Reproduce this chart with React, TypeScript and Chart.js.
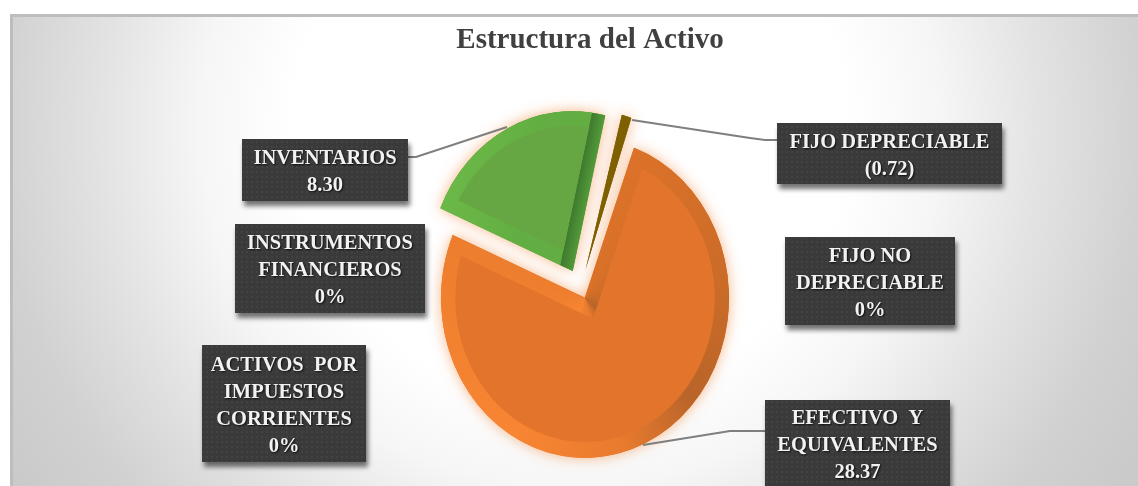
import React, { useEffect, useRef } from "react";
import { Chart, registerables } from "chart.js";

Chart.register(...registerables);

const titleText = "Estructura del Activo";
const categories = [
  "EFECTIVO Y EQUIVALENTES",
  "ACTIVOS POR IMPUESTOS CORRIENTES",
  "INSTRUMENTOS FINANCIEROS",
  "INVENTARIOS",
  "FIJO DEPRECIABLE",
  "FIJO NO DEPRECIABLE",
];
const values = [28.37, 0, 0, 8.3, 0.72, 0];
const categoryLines = [
  ["EFECTIVO  Y", "EQUIVALENTES"],
  ["ACTIVOS  POR", "IMPUESTOS", "CORRIENTES"],
  ["INSTRUMENTOS", "FINANCIEROS"],
  ["INVENTARIOS"],
  ["FIJO DEPRECIABLE"],
  ["FIJO NO", "DEPRECIABLE"],
];
const valueLabels = ["28.37", "0%", "0%", "8.30", "(0.72)", "0%"];

const faceColors = ["#E2752B", "#A5A5A5", "#FFC000", "#67A743", "#7F6000", "#4472C4"];
const sliceOffsets = [0, 0, 0, 110, 108, 0];
const sliceNudgeX = [0, 0, 0, 0, -7, 0];
const rimWidths = [14, 0, 0, 13, 0, 0];

const labelBoxes = [
  { x: 765, y: 400, w: 185, h: 92, first: 419 },
  { x: 202, y: 345, w: 164, h: 117, first: 366 },
  { x: 235, y: 224, w: 190, h: 89, first: 244 },
  { x: 242, y: 139, w: 166, h: 62, first: 159 },
  { x: 777, y: 123, w: 225, h: 61, first: 143 },
  { x: 785, y: 237, w: 170, h: 88, first: 257 },
];
const leaders = [
  [[643, 445], [730, 431], [765, 431]],
  [[408, 157], [416, 157], [507, 127]],
  [[632, 120], [750, 138], [765, 140], [777, 140]],
];

const PIE_X = 585;
const PIE_Y = 298;
const STRETCH = 1.11;

function orangeRim(chart: any) {
  const a = chart.chartArea;
  if (!a) return "#E2752B";
  const cx = (a.left + a.right) / 2;
  const cy = (a.top + a.bottom) / 2;
  const g = chart.ctx.createConicGradient(0, cx, cy);
  const stops: [number, string][] = [
    [0, "#C96B28"],
    [40, "#B9642A"],
    [75, "#E97B2E"],
    [120, "#F88533"],
    [180, "#F0802F"],
    [240, "#E87A2C"],
    [290, "#DC7229"],
    [360, "#C96B28"],
  ];
  stops.forEach(([deg, color]) => g.addColorStop(deg / 360, color));
  return g;
}

function greenRim(chart: any) {
  const a = chart.chartArea;
  if (!a) return "#67A743";
  const ax = (a.left + a.right) / 2;
  const ay = (a.top + a.bottom) / 2;
  const nx = 0.974;
  const ny = 0.225;
  const g = chart.ctx.createLinearGradient(ax - nx * 150, ay - ny * 150, ax, ay);
  g.addColorStop(0, "#6CBA49");
  g.addColorStop(0.6, "#63AE42");
  g.addColorStop(0.91, "#63AE42");
  g.addColorStop(0.915, "#3F7A2E");
  g.addColorStop(1, "#539A3A");
  return g;
}

const panelPlugin = {
  id: "panel",
  beforeDraw(chart: any) {
    const ctx = chart.ctx;
    ctx.save();
    ctx.fillStyle = "#ffffff";
    ctx.fillRect(0, 0, chart.width, chart.height);
    ctx.fillStyle = "#bdbdbd";
    ctx.fillRect(10, 14, chart.width - 10, 3);
    ctx.fillRect(10, 14, 3, chart.height - 14);
    ctx.beginPath();
    ctx.rect(13, 17, chart.width - 13, chart.height - 17);
    ctx.clip();
    ctx.translate(570, 130);
    ctx.scale(1, 600 / 620);
    const g = ctx.createRadialGradient(0, 0, 0, 0, 0, 660);
    g.addColorStop(0, "#ffffff");
    g.addColorStop(0.42, "#ffffff");
    g.addColorStop(0.56, "#f6f6f6");
    g.addColorStop(0.71, "#e3e3e3");
    g.addColorStop(0.87, "#d1d1d1");
    g.addColorStop(1, "#cacaca");
    ctx.fillStyle = g;
    ctx.fillRect(-700, -300, 1500, 900);
    ctx.restore();
  },
};

const sliceRadiusPlugin = {
  id: "sliceRadius",
  afterDatasetsUpdate(chart: any) {
    const meta = chart.getDatasetMeta(0);
    const base = meta.controller.outerRadius;
    meta.data.forEach((arc: any, i: number) => {
      const fix = 1 - Math.sin(Math.min(Math.PI, arc.circumference || 0));
      arc.outerRadius = base - (sliceOffsets[i] / 4) * fix;
      arc.x += sliceNudgeX[i];
    });
  },
};

const stretchPlugin = {
  id: "stretch",
  beforeDatasetsDraw(chart: any) {
    const a = chart.chartArea;
    const cx = (a.left + a.right) / 2;
    const cy = (a.top + a.bottom) / 2;
    const ctx = chart.ctx;
    ctx.save();
    ctx.translate(PIE_X, PIE_Y);
    ctx.scale(1, STRETCH);
    ctx.translate(-cx, -cy);
    // glow pass: faces only, so the bevel strokes stay crisp
    ctx.save();
    ctx.shadowColor = "rgba(240,130,50,0.6)";
    ctx.shadowBlur = 14;
    chart.getDatasetMeta(0).data.forEach((arc: any) => {
      const o = arc.options;
      arc.options = {
        backgroundColor: o.backgroundColor,
        offset: o.offset,
        spacing: 0,
        circular: true,
        borderRadius: 0,
        borderWidth: 0,
        borderAlign: "inner",
      };
      arc.draw(ctx);
      arc.options = o;
    });
    ctx.restore();
  },
  afterDatasetsDraw(chart: any) {
    chart.ctx.restore();
  },
};

const labelPlugin = {
  id: "boxLabels",
  afterDraw(chart: any) {
    const ctx = chart.ctx;
    const tile = document.createElement("canvas");
    tile.width = 5;
    tile.height = 5;
    const t = tile.getContext("2d") as CanvasRenderingContext2D;
    t.fillStyle = "#3A3A3A";
    t.fillRect(0, 0, 5, 5);
    t.fillStyle = "#434343";
    t.fillRect(1, 1, 2, 2);
    const pattern = ctx.createPattern(tile, "repeat");

    ctx.save();
    ctx.strokeStyle = "#7f7f7f";
    ctx.lineWidth = 2;
    leaders.forEach((pts) => {
      ctx.beginPath();
      pts.forEach(([x, y], i) => (i ? ctx.lineTo(x, y) : ctx.moveTo(x, y)));
      ctx.stroke();
    });
    ctx.restore();

    labelBoxes.forEach((b, i) => {
      ctx.save();
      ctx.shadowColor = "rgba(0,0,0,0.55)";
      ctx.shadowBlur = 5;
      ctx.shadowOffsetX = 2;
      ctx.shadowOffsetY = 5;
      ctx.fillStyle = pattern;
      ctx.fillRect(b.x, b.y, b.w, b.h);
      ctx.restore();

      ctx.save();
      ctx.font = "bold 20.5px 'Liberation Serif'";
      ctx.textAlign = "center";
      ctx.textBaseline = "middle";
      ctx.fillStyle = "#F2F2F2";
      ctx.shadowColor = "rgba(0,0,0,0.8)";
      ctx.shadowBlur = 2;
      ctx.shadowOffsetX = 1;
      ctx.shadowOffsetY = 1;
      const lines = [...categoryLines[i], valueLabels[i]];
      lines.forEach((line, k) => {
        ctx.fillText(line, b.x + b.w / 2, b.first + k * 27);
      });
      ctx.restore();
    });
  },
};

export default function App() {
  const ref = useRef<HTMLCanvasElement | null>(null);

  useEffect(() => {
    if (!ref.current) return;
    const chart = new Chart(ref.current, {
      type: "pie",
      data: {
        labels: categories,
        datasets: [
          {
            data: values,
            backgroundColor: faceColors,
            borderAlign: "inner",
            borderJoinStyle: "miter",
            borderWidth: rimWidths,
            offset: sliceOffsets,
            borderColor: (c: any) => {
              if (c.dataIndex === 0) return orangeRim(c.chart);
              if (c.dataIndex === 3) return greenRim(c.chart);
              return "#7F6000";
            },
          } as any,
        ],
      },
      options: {
        responsive: false,
        animation: false,
        rotation: 20,
        layout: { padding: { left: 42, right: 0, top: 23, bottom: 30 } },
        plugins: {
          legend: { display: false },
          tooltip: { enabled: false },
          title: {
            display: true,
            text: titleText,
            color: "#404040",
            padding: 0,
            font: { family: "'Liberation Serif'", size: 29, weight: "bold" },
          },
        },
      },
      plugins: [panelPlugin, sliceRadiusPlugin, stretchPlugin, labelPlugin],
    } as any);
    return () => chart.destroy();
  }, []);

  return (
    <canvas
      ref={ref}
      width={1138}
      height={486}
      style={{ position: "fixed", left: 0, top: 0, width: 1138, height: 486, display: "block" }}
    />
  );
}
